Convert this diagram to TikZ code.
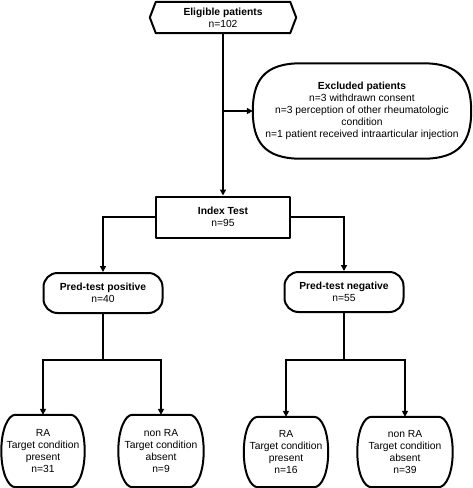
\documentclass[tikz,border=0pt]{standalone}
\usepackage{fontspec}
\setmainfont{Liberation Sans}
\usetikzlibrary{arrows.meta,calc}
\tikzset{
  boxline/.style={line width=2pt, line join=round},
  plain/.style={draw=none, inner sep=0pt, align=center, font=\fontsize{10.3}{12}\selectfont},
  rectbox/.style={plain, draw, boxline},
  roundbox/.style={plain, draw, boxline, rounded corners=14pt},
  conn/.style={line width=2pt},
  arr/.style={conn, -{Triangle[length=6pt,width=6pt]}}
}
\newcommand\barrelshape[4]{%
 \draw[boxline] ($(#1.north west)+(#2+#3,0pt)$) -- ($(#1.north east)+(-#2-#3,0pt)$)
   .. controls ($(#1.north east)+(-#2+1pt,0pt)$) and ($(#1.east)+(0pt,#4)$) .. (#1.east)
   .. controls ($(#1.east)+(0pt,-#4)$) and ($(#1.south east)+(-#2+1pt,0pt)$) .. ($(#1.south east)+(-#2-#3,0pt)$)
   -- ($(#1.south west)+(#2+#3,0pt)$)
   .. controls ($(#1.south west)+(#2-1pt,0pt)$) and ($(#1.west)+(0pt,-#4)$) .. (#1.west)
   .. controls ($(#1.west)+(0pt,#4)$) and ($(#1.north west)+(#2-1pt,0pt)$) .. cycle;}
\begin{document}
\begin{tikzpicture}[x=1pt,y=-1pt]
\useasboundingbox (0,0) rectangle (473,488);
% nodes
\node[plain, minimum width=146pt, minimum height=31pt] (elig) at (223,17.5) {\textbf{Eligible patients}\\n=102};
\draw[boxline] (elig.west) -- ($(elig.north west)+(6pt,0pt)$) -- ($(elig.north east)+(-6pt,0pt)$) -- (elig.east)
  -- ($(elig.south east)+(-6pt,0pt)$) -- ($(elig.south west)+(6pt,0pt)$) -- cycle;
\node[plain, minimum width=218pt, minimum height=95pt] (excl) at (362,111)
  {\textbf{Excluded patients}\\n=3 withdrawn consent\\n=3 perception of other rheumatologic\\condition\\n=1 patient received intraarticular injection};
\barrelshape{excl}{12pt}{36pt}{30pt}
\node[rectbox, minimum width=134pt, minimum height=41pt] (index) at (223,217) {\textbf{Index Test}\\n=95};
\node[roundbox, minimum width=119pt, minimum height=40pt] (pos) at (103,293) {\textbf{Pred-test positive}\\n=40};
\node[roundbox, minimum width=119pt, minimum height=40pt] (neg) at (344,292) {\textbf{Pred-test negative}\\n=55};
\node[plain, minimum width=83pt, minimum height=72pt] (b1) at (43,451) {RA\\Target condition\\present\\n=31};
\node[plain, minimum width=85pt, minimum height=72pt] (b2) at (161,451) {non RA\\Target condition\\absent\\n=9};
\node[plain, minimum width=84pt, minimum height=70pt] (b3) at (286,452) {RA\\Target condition\\present\\n=16};
\node[plain, minimum width=95pt, minimum height=70pt] (b4) at (405,452) {non RA\\Target condition\\absent\\n=39};
\barrelshape{b1}{8pt}{6pt}{22pt}
\barrelshape{b2}{8pt}{6pt}{22pt}
\barrelshape{b3}{8pt}{6pt}{22pt}
\barrelshape{b4}{8pt}{6pt}{22pt}
% connectors
\draw[arr] (elig.south) -- (index.north);
\coordinate (ex) at (elig.south |- excl.west);
\draw[arr] (ex) -- (excl.west);
\draw[arr] (index.west) -| (pos.north);
\draw[arr] (index.east) -| (neg.north);
\coordinate (ps) at (103,360);
\coordinate (ns) at (344,360);
\draw[conn] (pos.south) -- (ps);
\draw[conn] (neg.south) -- (ns);
\draw[arr] (ps) -| (b1.north);
\draw[arr] (ps) -| (b2.north);
\draw[arr] (ns) -| (b3.north);
\draw[arr] (ns) -| (b4.north);
\end{tikzpicture}
\end{document}
